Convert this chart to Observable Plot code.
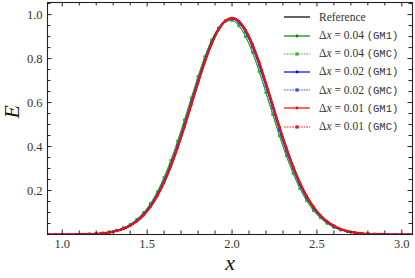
<!DOCTYPE html>
<html><head><meta charset="utf-8">
<script src="https://cdn.jsdelivr.net/npm/d3@7"></script>
<script src="https://cdn.jsdelivr.net/npm/@observablehq/plot@0.6"></script>
<style>
body{margin:0;background:#fff;}
#wrap{position:relative;width:415px;height:278px;overflow:hidden;}
#legend{position:absolute;left:284px;top:0;}
.row{position:absolute;left:0;height:14px;display:flex;align-items:center;white-space:nowrap;font-family:'Liberation Serif','DejaVu Serif',serif;font-size:11.5px;color:#333;font-weight:normal;}
.row span{font-family:'Liberation Serif','DejaVu Serif',serif;}
.row svg{margin-right:9px;}
.row span.tt{font-family:'Liberation Mono','DejaVu Sans Mono',monospace;font-size:10.5px;}
</style></head>
<body><div id="wrap"><div id="legend"></div></div>
<script>
// x grid (dx = 0.04 sampling)
const xGrid = [0.92,0.96,1.00,1.04,1.08,1.12,1.16,1.20,1.24,1.28,1.32,1.36,1.40,1.44,1.48,1.52,1.56,1.60,1.64,1.68,1.72,1.76,1.80,1.84,1.88,1.92,1.96,2.00,2.04,2.08,2.12,2.16,2.20,2.24,2.28,2.32,2.36,2.40,2.44,2.48,2.52,2.56,2.60,2.64,2.68,2.72,2.76,2.80,2.84,2.88,2.92,2.96,3.00,3.04,3.08];
const eRef = [0,0,0,0,0,0.001,0.002,0.003,0.006,0.010,0.016,0.025,0.040,0.060,0.088,0.126,0.175,0.236,0.310,0.395,0.489,0.589,0.689,0.784,0.866,0.930,0.971,0.985,0.971,0.930,0.866,0.784,0.689,0.589,0.489,0.395,0.310,0.236,0.175,0.126,0.088,0.060,0.040,0.025,0.016,0.010,0.006,0.003,0.002,0.001,0,0,0,0,0];
const eGM1_004 = [0,0,0,0,0,0.001,0.002,0.004,0.007,0.012,0.019,0.030,0.046,0.069,0.100,0.141,0.194,0.260,0.337,0.425,0.521,0.620,0.718,0.808,0.884,0.939,0.970,0.973,0.949,0.900,0.829,0.742,0.645,0.546,0.448,0.358,0.278,0.210,0.154,0.109,0.076,0.051,0.033,0.021,0.013,0.008,0.005,0.003,0.001,0.001,0,0,0,0,0];
const eGMC_004 = [0,0,0,0,0,0.001,0.002,0.004,0.007,0.012,0.019,0.030,0.046,0.069,0.100,0.141,0.194,0.260,0.337,0.425,0.521,0.620,0.718,0.808,0.884,0.939,0.970,0.973,0.949,0.900,0.829,0.742,0.645,0.546,0.448,0.358,0.278,0.210,0.154,0.109,0.076,0.051,0.033,0.021,0.013,0.008,0.005,0.003,0.001,0.001,0,0,0,0,0];
const eGM1_002 = [0,0,0,0,0,0.001,0.002,0.003,0.006,0.010,0.017,0.027,0.042,0.063,0.092,0.131,0.181,0.244,0.319,0.405,0.500,0.600,0.699,0.792,0.873,0.934,0.971,0.982,0.964,0.921,0.854,0.770,0.675,0.575,0.475,0.382,0.299,0.227,0.168,0.120,0.084,0.057,0.037,0.024,0.015,0.009,0.005,0.003,0.002,0.001,0,0,0,0,0];
const eGMC_002 = eGM1_002;
const eGM1_001 = eRef;
const eGMC_001 = eRef;

const xMajor = [1.0,1.5,2.0,2.5,3.0];
const xMinor = [1.1,1.2,1.3,1.4,1.6,1.7,1.8,1.9,2.1,2.2,2.3,2.4,2.6,2.7,2.8,2.9];
const yMajor = [0.2,0.4,0.6,0.8,1.0];
const yMinor = [0.05,0.1,0.15,0.25,0.3,0.35,0.45,0.5,0.55,0.65,0.7,0.75,0.85,0.9,0.95,1.05];

const series = [
  {name:"Reference", values:eRef, color:"#000", dash:null, sym:null, w:1.2},
  {name:"0.04", m:"GM1", values:eGM1_004, color:"#008000", dash:null, sym:"circle", r:1.3, w:1},
  {name:"0.04", m:"GMC", values:eGMC_004, color:"#22bb22", dash:"1.6,1.2", sym:"square", r:1.6, w:1},
  {name:"0.02", m:"GM1", values:eGM1_002, color:"#0000ff", dash:null, sym:"circle", r:1.2, w:1.5},
  {name:"0.02", m:"GMC", values:eGMC_002, color:"#3344ff", dash:"1.6,1.2", sym:"square", r:1.4, w:1.3},
  {name:"0.01", m:"GM1", values:eGM1_001, color:"#ff0000", dash:null, sym:"circle", r:1.1, w:2.0},
  {name:"0.01", m:"GMC", values:eGMC_001, color:"#ee1111", dash:"1.6,1.2", sym:"square", r:1.2, w:1.4}
];

const W=415,H=278,mt=2,mb=44,ml=47,mr=3;
const iH=H-mt-mb, iW=W-ml-mr;
const serif = "Liberation Serif, serif";

const marks = [];
series.forEach(s=>{
  const rows = xGrid.map((x,i)=>({x, E:s.values[i]}));
  marks.push(Plot.line(rows,{x:"x",y:"E",stroke:s.color,strokeWidth:s.w,strokeDasharray:s.dash,curve:"monotone-x",clip:true}));
  if (s.sym) marks.push(Plot.dot(rows,{x:"x",y:"E",symbol:s.sym,r:s.r,fill:s.color,stroke:"none",clip:true}));
});
const tc="#222";
marks.push(
  Plot.frame({stroke:tc,strokeWidth:1.1}),
  Plot.tickX(xMajor,{x:d=>d,insetTop:iH-4.5,stroke:tc}),
  Plot.tickX(xMajor,{x:d=>d,insetBottom:iH-4.5,stroke:tc}),
  Plot.tickX(xMinor,{x:d=>d,insetTop:iH-3.5,stroke:tc}),
  Plot.tickX(xMinor,{x:d=>d,insetBottom:iH-3.5,stroke:tc}),
  Plot.tickY(yMajor,{y:d=>d,insetRight:iW-4.5,stroke:tc}),
  Plot.tickY(yMajor,{y:d=>d,insetLeft:iW-4.5,stroke:tc}),
  Plot.tickY(yMinor,{y:d=>d,insetRight:iW-3.5,stroke:tc}),
  Plot.tickY(yMinor,{y:d=>d,insetLeft:iW-3.5,stroke:tc}),
  Plot.axisX(xMajor,{tickSize:0,tickPadding:5,tickFormat:d3.format(".1f"),label:null,fill:"#333"}),
  Plot.axisY(yMajor,{tickSize:0,tickPadding:5,tickFormat:d3.format(".1f"),label:null,fill:"#333"}),
  Plot.text(["x"],{text:d=>d,frameAnchor:"bottom",dy:35,fontSize:22,fontStyle:"italic",fontFamily:serif,fill:"#111"}),
  Plot.text(["E"],{text:d=>d,frameAnchor:"left",dx:-36,rotate:-90,fontSize:22,fontStyle:"italic",fontFamily:serif,fill:"#111"})
);

const chart = Plot.plot({
  width:W,height:H,marginTop:mt,marginBottom:mb,marginLeft:ml,marginRight:mr,
  x:{domain:[0.913,3.063]},
  y:{domain:[0,1.055]},
  style:{fontFamily:serif,fontSize:"12.5px",background:"#fff"},
  marks
});
document.getElementById("wrap").prepend(chart);

// legend
const leg = document.getElementById("legend");
series.forEach((s,i)=>{
  const row = document.createElement("div");
  row.className="row";
  row.style.top = (17.3+18.2*i-7)+"px";
  let mk="";
  if (s.sym==="circle") mk=`<circle cx="13" cy="5" r="1.4" fill="${s.color}"/>`;
  if (s.sym==="square") mk=`<rect x="11.4" y="3.4" width="3.2" height="3.2" fill="${s.color}"/>`;
  row.innerHTML = `<svg width="26" height="10"><line x1="0" x2="26" y1="5" y2="5" stroke="${s.color}" stroke-width="1.2" ${s.dash?`stroke-dasharray="${s.dash}"`:""}/>${mk}</svg>` +
    (s.m ? `<span>Δ<i>x</i> = ${s.name} <span class="tt">(${s.m})</span></span>` : `<span>${s.name}</span>`);
  leg.appendChild(row);
});
</script></body></html>
